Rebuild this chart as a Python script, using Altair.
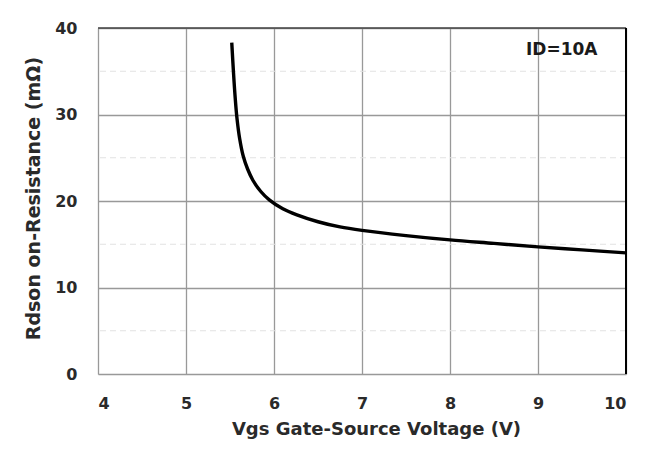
import altair as alt
import pandas as pd

vgs = [5.52, 5.54, 5.56, 5.58, 5.61, 5.65, 5.70, 5.76, 5.85, 5.95, 6.1, 6.26, 6.5, 6.75, 7.0, 7.5, 8.0, 8.5, 9.0, 9.5, 10.0]
rdson = [38.3, 34.8, 31.8, 29.5, 27.2, 25.2, 23.7, 22.4, 21.1, 20.1, 19.1, 18.4, 17.6, 17.0, 16.6, 16.0, 15.5, 15.1, 14.7, 14.35, 14.0]
minor_y = [5, 15, 25, 35]
x_ticks = [4, 5, 6, 7, 8, 9, 10]
y_ticks = [0, 10, 20, 30, 40]

df = pd.DataFrame({"vgs": vgs, "rdson": rdson})
minor_df = pd.DataFrame({"y": minor_y})

FONT = "DejaVu Sans"
TXT = "#2a2a2a"

xs = alt.Scale(domain=[4, 10], nice=False, zero=False)
ys = alt.Scale(domain=[0, 40], nice=False)

minor = alt.Chart(minor_df).mark_rule(color="#e2e2e2", strokeWidth=1, strokeDash=[6, 4]).encode(
    y=alt.Y("y:Q", scale=ys)
)

line = alt.Chart(df).mark_line(color="black", strokeWidth=3.4, interpolate="catmull-rom").encode(
    x=alt.X("vgs:Q", scale=xs,
            axis=alt.Axis(values=x_ticks, format="d", title="Vgs Gate-Source Voltage (V)", grid=True,
                          gridColor="#999999", gridWidth=1.3, domain=False, ticks=False,
                          labelPadding=21, titlePadding=9, labelFontSize=16, titleFontSize=18,
                          labelFont=FONT, titleFont=FONT, labelFontWeight="bold", titleFontWeight="bold",
                          labelColor=TXT, titleColor=TXT, titleX=278)),
    y=alt.Y("rdson:Q", scale=ys,
            axis=alt.Axis(values=y_ticks, format="d", title="Rdson on-Resistance (mΩ)", grid=True,
                          gridColor="#999999", gridWidth=1.3, domain=False, ticks=False,
                          labelPadding=21, titlePadding=11, labelFontSize=16, titleFontSize=19,
                          labelFont=FONT, titleFont=FONT, labelFontWeight="bold", titleFontWeight="bold",
                          labelColor=TXT, titleColor=TXT, titleY=170)),
)

top_border = alt.Chart(pd.DataFrame({"y": [40]})).mark_rule(color="#444444", strokeWidth=1.6).encode(
    y=alt.Y("y:Q", scale=ys)
)
right_border = alt.Chart(pd.DataFrame({"x": [10]})).mark_rule(color="black", strokeWidth=2).encode(
    x=alt.X("x:Q", scale=xs)
)

label = alt.Chart(pd.DataFrame({"x": [9.27], "y": [37.4], "t": ["ID=10A"]})).mark_text(
    font=FONT, fontSize=17, fontWeight="bold", color="#1a1a1a"
).encode(x=alt.X("x:Q", scale=xs), y=alt.Y("y:Q", scale=ys), text="t:N")

chart = alt.layer(minor, line, top_border, right_border, label).properties(
    width=528, height=346,
    autosize=alt.AutoSizeParams(type="none"),
    padding={"left": 90, "top": 20, "right": 20, "bottom": 70},
).configure_view(stroke=None).configure(background="white")

chart.save("out.html", embed_options={"renderer": "svg", "actions": False})
